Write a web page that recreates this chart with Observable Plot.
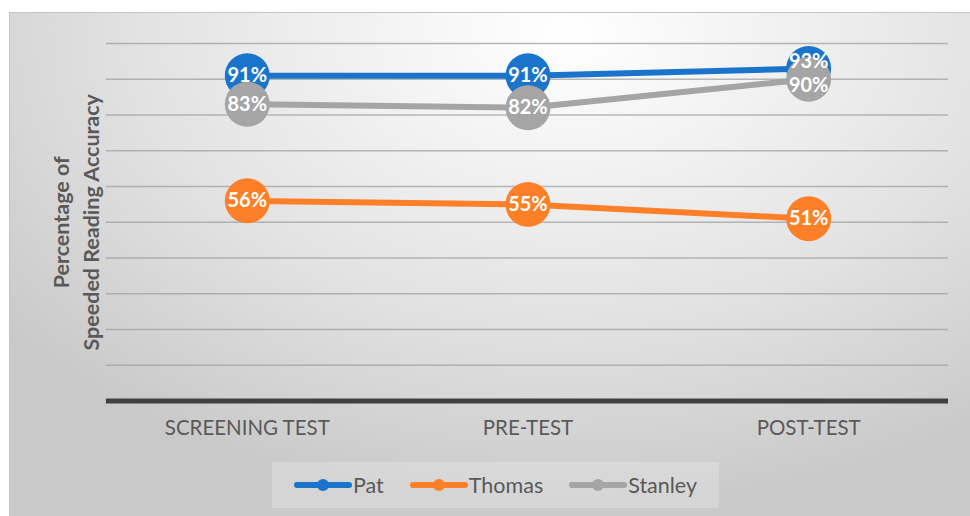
<!DOCTYPE html>
<html>
<head>
<meta charset="utf-8">
<script src="https://cdn.jsdelivr.net/npm/d3@7"></script>
<script src="https://cdn.jsdelivr.net/npm/@observablehq/plot@0.6"></script>
<style>
  html, body { margin: 0; padding: 0; background: #ffffff; }
  body { width: 970px; height: 516px; overflow: hidden; position: relative; font-family: Lato, "Open Sans", sans-serif; }
  #card {
    position: absolute; left: 9px; top: 12px; width: 961px; height: 504px;
    box-sizing: border-box; border-top: 1.5px solid #c4c4c4; border-left: 1.5px solid #c4c4c4;
    background: radial-gradient(ellipse 75% 95% at 58% 4%, #ffffff 0%, #f1f1f1 30%, #e2e2e2 60%, #c9c9c9 100%);
  }
  #chart { position: absolute; left: 0; top: 0; }
  #legend {
    position: absolute; left: 262px; top: 449px; width: 447px; height: 46px;
    background: rgba(255,255,255,0.22);
    display: flex; align-items: center; justify-content: center; gap: 26px;
    font-size: 21.5px; color: #595959;
  }
  .item { display: flex; align-items: center; }
  .item svg { margin-right: 1px; }
</style>
</head>
<body>
<div id="card">
  <div id="chart"></div>
  <div id="legend"></div>
</div>
<script>
const categories = ["SCREENING TEST", "PRE-TEST", "POST-TEST"];
const seriesNames = ["Pat", "Thomas", "Stanley"];
const patValues = [0.91, 0.91, 0.93];
const thomasValues = [0.56, 0.55, 0.51];
const stanleyValues = [0.83, 0.82, 0.90];
const seriesColors = ["#1a74cb", "#fd7f27", "#a5a5a5"];
const yGridTicks = [0.1, 0.2, 0.3, 0.4, 0.5, 0.6, 0.7, 0.8, 0.9, 1.0];
const yTitle = "Percentage of\nSpeeded Reading Accuracy";

const valuesBySeries = [patValues, thomasValues, stanleyValues];
const rows = [];
seriesNames.forEach((s, i) => {
  categories.forEach((c, j) => rows.push({series: s, category: c, value: valuesBySeries[i][j]}));
});

const colorScale = {domain: seriesNames, range: seriesColors};
const lastCat = categories[categories.length - 1];
const labelOffset = {Pat: -7, Thomas: 0, Stanley: 6};

const plot = Plot.plot({
  width: 961,
  height: 440,
  marginLeft: 96,
  marginRight: 22,
  marginTop: 30,
  marginBottom: 52,
  style: {background: "transparent", fontFamily: "Lato, 'Open Sans', sans-serif", overflow: "visible"},
  x: {type: "point", domain: categories, padding: 0.5, label: null},
  y: {domain: [0, 1], axis: null},
  color: colorScale,
  marks: [
    Plot.ruleY(yGridTicks, {stroke: "#a0a0a0", strokeWidth: 1.6, strokeOpacity: 0.75}),
    Plot.ruleY([0], {stroke: "#404040", strokeWidth: 5}),
    Plot.axisX({tickSize: 0, tickPadding: 19, fontSize: 20.5, fill: "#595959", label: null}),
    Plot.text([yTitle], {frameAnchor: "left", dx: -32, rotate: -90, fontSize: 21.5, fontWeight: "bold", fill: "#595959", lineHeight: 1.4, textAnchor: "middle", lineAnchor: "middle"}),
    Plot.line(rows, {x: "category", y: "value", z: "series", stroke: "series", strokeWidth: 6, strokeLinecap: "round"}),
    Plot.dot(rows, {x: "category", y: "value", fill: "series", r: 22.5}),
    Plot.text(rows.filter(d => d.category !== lastCat), {x: "category", y: "value", text: d => Math.round(d.value * 100) + "%", fill: "white", fontSize: 20, fontWeight: "bold"}),
    ...seriesNames.map(s => Plot.text(rows.filter(d => d.category === lastCat && d.series === s), {x: "category", y: "value", text: d => Math.round(d.value * 100) + "%", fill: "white", fontSize: 20, fontWeight: "bold", dy: labelOffset[s]}))
  ]
});
document.getElementById("chart").appendChild(plot);

const legend = document.getElementById("legend");
seriesNames.forEach((s, i) => {
  const item = document.createElement("div");
  item.className = "item";
  item.innerHTML = `<svg width="58" height="14"><line x1="3" y1="7" x2="55" y2="7" stroke="${seriesColors[i]}" stroke-width="6" stroke-linecap="round"/><circle cx="29" cy="7" r="6" fill="${seriesColors[i]}"/></svg><span>${s}</span>`;
  legend.appendChild(item);
});
</script>
</body>
</html>
